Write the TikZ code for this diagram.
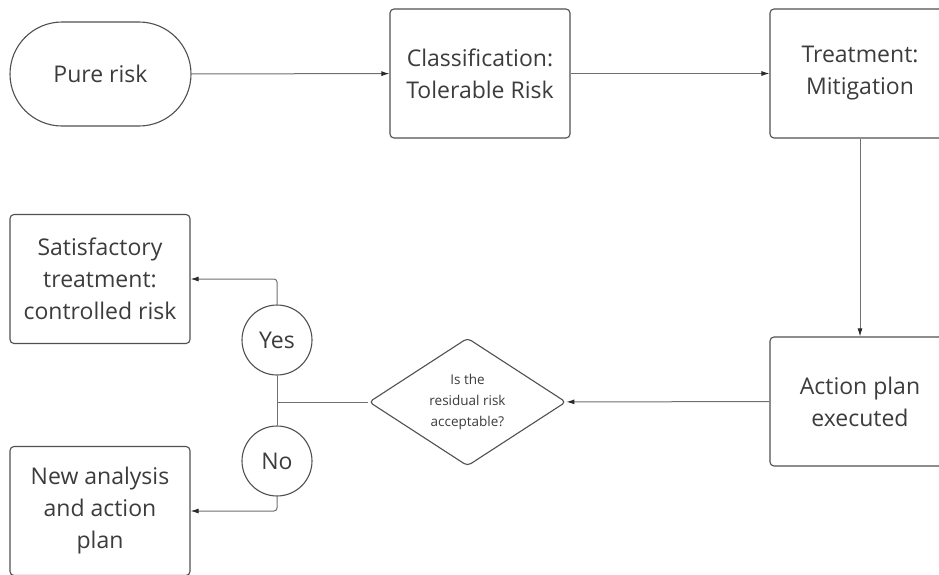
\documentclass[tikz,border=0pt]{standalone}
\usepackage{fontspec}
\setmainfont{Open Sans}
\usetikzlibrary{arrows.meta,shapes.geometric}
\definecolor{txt}{HTML}{3C3C3C}
\definecolor{edge}{HTML}{505050}
\definecolor{conn}{HTML}{707070}
\definecolor{tip}{HTML}{2A2A2A}
\begin{document}
\begin{tikzpicture}[x=1pt,y=-1pt,
  box/.style={draw=edge,line width=1.1pt,rounded corners=4pt,text=txt,align=center,
    font=\fontsize{23}{32}\selectfont,minimum width=180pt,minimum height=129pt,inner sep=0pt},
  pill/.style={draw=edge,line width=1.1pt,rounded corners=52pt,text=txt,align=center,
    font=\fontsize{23}{32}\selectfont,minimum width=181pt,minimum height=104pt,inner sep=0pt},
  circ/.style={draw=edge,line width=1.1pt,circle,text=txt,minimum size=70pt,inner sep=0pt,
    font=\fontsize{23}{32}\selectfont},
  dec/.style={draw=edge,line width=1.1pt,diamond,rounded corners=4pt,aspect=1.54,text=txt,align=center,
    font=\fontsize{13.5}{21}\selectfont,minimum width=197pt,minimum height=128pt,inner sep=0pt},
  conn/.style={draw=conn,line width=1pt,rounded corners=3pt},
  arr/.style={conn,-{Latex[length=8pt,width=5pt,color=tip]}}
]
\clip (0,0) rectangle (939,574);
\fill[white] (0,0) rectangle (939,574);
\node[pill] (pure) at (100.5,74) {Pure risk};
\node[box] (class) at (480,73.5) {Classification:\\Tolerable Risk};
\node[box] (treat) at (860,73.5) {Treatment:\\Mitigation};
\node[box] (action) at (860,401.5) {Action plan\\executed};
\node[dec] (q) at (467.5,402) {Is the\\residual risk\\acceptable?};
\node[circ] (yes) at (277,340) {Yes};
\node[circ] (no) at (277,461) {No};
\node[box] (sat) at (100,279) {Satisfactory\\treatment:\\controlled risk};
\node[box] (new) at (100,511) {New analysis\\and action\\plan};
\coordinate (j) at (277,402);
\draw[arr] (pure) -- (class);
\draw[arr] (class) -- (treat);
\draw[arr] (treat) -- (action);
\draw[arr] (action) -- (q);
\draw[conn] (q.west) -- (j);
\draw[conn] (yes.south) -- (no.north);
\draw[arr] (yes.north) |- (sat.east);
\draw[arr] (no.south) |- (new.east);
\end{tikzpicture}
\end{document}
